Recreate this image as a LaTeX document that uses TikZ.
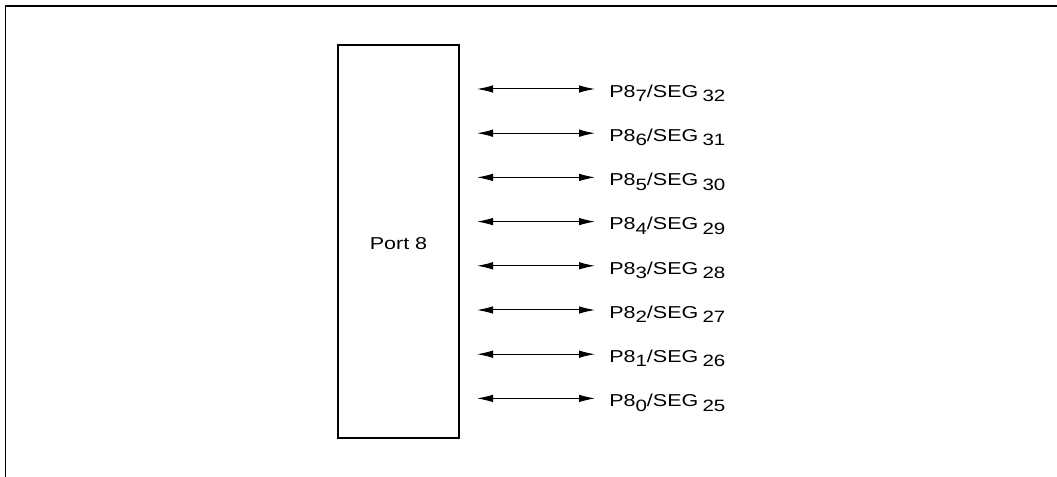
\documentclass[tikz,border=0pt]{standalone}
\usepackage{fontspec}
\setmainfont{Liberation Sans}
\usetikzlibrary{arrows.meta}
\newcommand{\mysub}[1]{\raisebox{-3.3pt}{\fontsize{12.3pt}{13pt}\selectfont #1}}
\newcommand{\wide}[1]{\scalebox{1.25}[1]{#1}}
\begin{document}
\begin{tikzpicture}[x=0.75pt,y=-0.75pt,
  frame/.style={line width=1.1pt},
  portbox/.style={draw,line width=0.8pt,minimum width=121*0.75pt,minimum height=393*0.75pt,inner sep=0pt},
  bus/.style={line width=0.75pt,{Latex[length=16pt*0.75,width=7.5pt*0.75]}-{Latex[length=16pt*0.75,width=7.5pt*0.75]}},
  lbl/.style={anchor=base west,inner sep=0pt,font=\fontsize{12.9pt}{14pt}\selectfont}]
\useasboundingbox (0,0) rectangle (1057,477);
\coordinate (fa) at (5.5,477);
\coordinate (fb) at (5.5,6);
\coordinate (fc) at (1057,6);
\draw[frame] (fa) -- (fb) -- (fc);
\node[portbox] (port) at (398.5,241.5) {};
\node[anchor=base,inner sep=0pt,font=\fontsize{12.9pt}{14pt}\selectfont] (plabel) at (398.5,249.5) {\wide{Port 8}};
\foreach \i/\s [count=\k from 0] in {7/32,6/31,5/30,4/29,3/28,2/27,1/26,0/25}{
  \coordinate (a\i) at (477,89+\k*44.2);
  \coordinate (b\i) at (595,89+\k*44.2);
  \draw[bus] (a\i) -- (b\i);
  \node[lbl] (l\i) at (609,97.3+\k*44.2) {\wide{P8\mysub{\i}/SEG\hspace{2.5pt}\mysub{\s}}};
}
\end{tikzpicture}
\end{document}
